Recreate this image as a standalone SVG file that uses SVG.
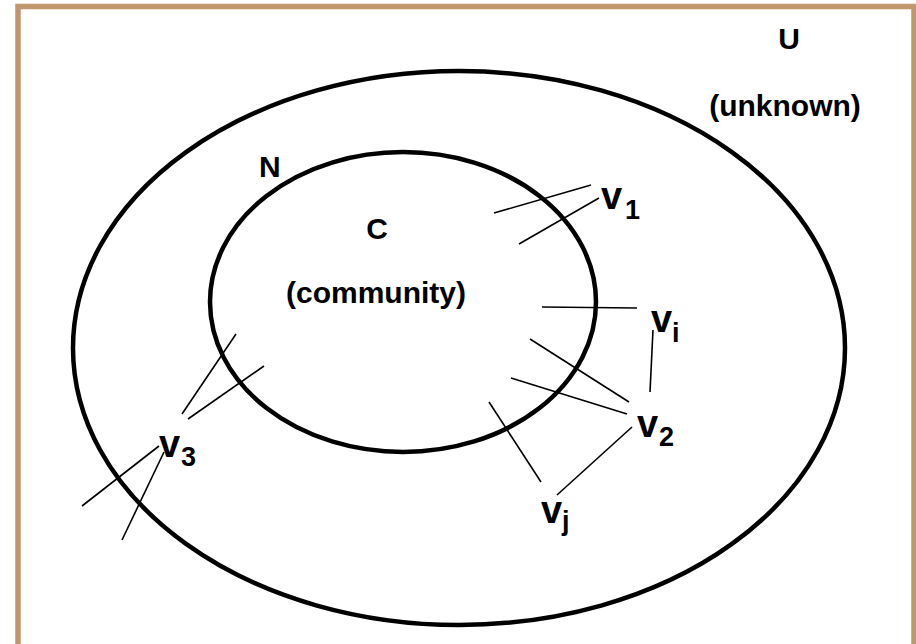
<svg xmlns="http://www.w3.org/2000/svg" width="916" height="644" viewBox="0 0 916 644">
  <style>
    .frame { fill: none; stroke: #C1966C; stroke-width: 5.5; }
    .set { fill: none; stroke: #000; stroke-width: 4.5; }
    .edge { stroke: #000; stroke-width: 1.6; fill: none; }
    .lbl { font-family: "Liberation Sans", Arial, sans-serif; font-weight: bold; fill: #000; }
    .big { font-size: 30px; }
    .v { font-size: 38px; }
    .sub { font-size: 27px; }
  </style>
  <rect width="916" height="644" fill="#fff"/>
  <!-- page frame (bottom edge runs off the page) -->
  <rect class="frame" x="18" y="6.5" width="896" height="700"/>

  <!-- sets -->
  <g id="set-N">
    <ellipse class="set" cx="459" cy="348" rx="386" ry="277"/>
    <text class="lbl big" x="259" y="177">N</text>
  </g>
  <g id="set-C">
    <ellipse class="set" cx="403" cy="302" rx="193" ry="150"/>
    <text class="lbl big" x="377" y="239" text-anchor="middle">C</text>
    <text class="lbl big" x="376" y="303" text-anchor="middle">(community)</text>
  </g>
  <g id="set-U">
    <text class="lbl big" x="789" y="49" text-anchor="middle">U</text>
    <text class="lbl big" x="785" y="116" text-anchor="middle">(unknown)</text>
  </g>

  <!-- vertices -->
  <g id="v1"><text class="lbl" x="601" y="209"><tspan class="v">v</tspan><tspan class="sub" x="625" y="219">1</tspan></text></g>
  <g id="vi"><text class="lbl" x="651" y="332"><tspan class="v">v</tspan><tspan class="sub" x="672" y="342">i</tspan></text></g>
  <g id="v2"><text class="lbl" x="637" y="437"><tspan class="v">v</tspan><tspan class="sub" x="659" y="446">2</tspan></text></g>
  <g id="vj"><text class="lbl" x="541" y="523"><tspan class="v">v</tspan><tspan class="sub" x="562" y="530">j</tspan></text></g>
  <g id="v3"><text class="lbl" x="159" y="457"><tspan class="v">v</tspan><tspan class="sub" x="181" y="466">3</tspan></text></g>

  <!-- edges -->
  <g id="edges">
    <line class="edge" x1="494" y1="213" x2="591" y2="185"/>
    <line class="edge" x1="519" y1="244" x2="599" y2="198"/>
    <line class="edge" x1="542" y1="307" x2="637" y2="308"/>
    <line class="edge" x1="653" y1="330" x2="650" y2="392"/>
    <line class="edge" x1="530" y1="339" x2="629" y2="402"/>
    <line class="edge" x1="511" y1="378" x2="627" y2="414"/>
    <line class="edge" x1="489" y1="402" x2="541" y2="482"/>
    <line class="edge" x1="632" y1="427" x2="557" y2="495"/>
    <line class="edge" x1="236" y1="334" x2="182" y2="414"/>
    <line class="edge" x1="264" y1="366" x2="188" y2="419"/>
    <line class="edge" x1="159" y1="446" x2="82" y2="506"/>
    <line class="edge" x1="164" y1="452" x2="122" y2="540"/>
  </g>
</svg>
